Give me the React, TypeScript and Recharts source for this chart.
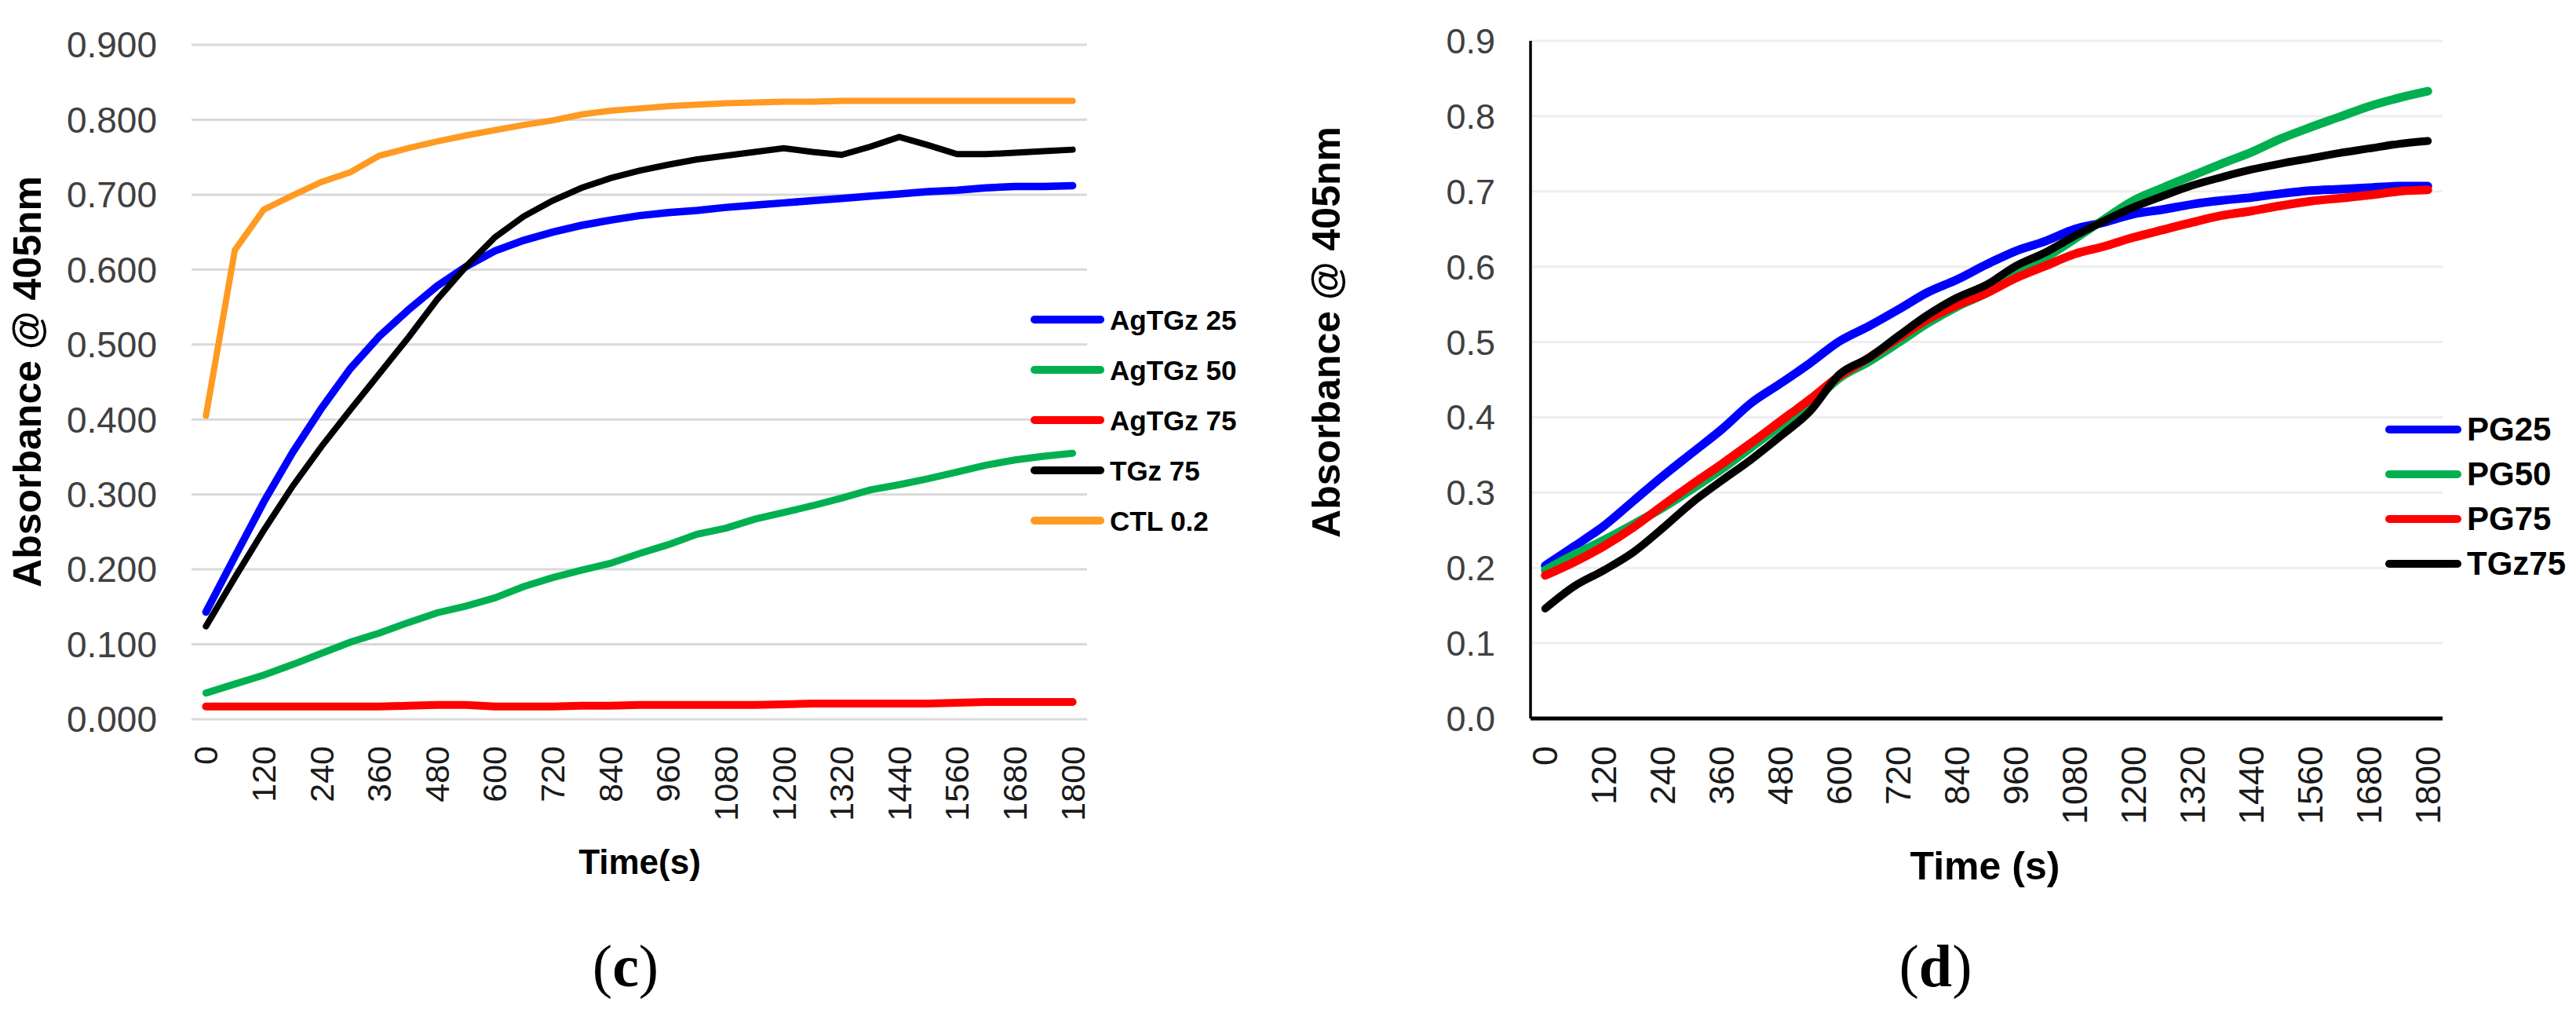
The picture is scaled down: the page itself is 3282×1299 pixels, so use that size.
import { LineChart, Line, XAxis, YAxis, CartesianGrid, Legend, Label } from "recharts";

const FONT = '"Liberation Sans", Arial, Helvetica, sans-serif';
const SERIF = '"Liberation Serif", "Times New Roman", serif';

// time points (s)
const times = [
  0, 60, 120, 180, 240, 300, 360, 420, 480, 540, 600, 660, 720, 780, 840, 900,
  960, 1020, 1080, 1140, 1200, 1260, 1320, 1380, 1440, 1500, 1560, 1620, 1680,
  1740, 1800,
];
const timeTicks = [0, 120, 240, 360, 480, 600, 720, 840, 960, 1080, 1200, 1320, 1440, 1560, 1680, 1800];
const absTicks = [0, 0.1, 0.2, 0.3, 0.4, 0.5, 0.6, 0.7, 0.8, 0.9];

// panel (c)
const seriesC = ["AgTGz 25", "AgTGz 50", "AgTGz 75", "TGz 75", "CTL 0.2"];
const agtgz25 = [0.143, 0.217, 0.29, 0.356, 0.415, 0.468, 0.511, 0.546, 0.578, 0.604, 0.625, 0.639, 0.65, 0.659, 0.666, 0.672, 0.676, 0.679, 0.683, 0.686, 0.689, 0.692, 0.695, 0.698, 0.701, 0.704, 0.706, 0.709, 0.711, 0.711, 0.712];
const agtgz50 = [0.035, 0.047, 0.059, 0.073, 0.088, 0.103, 0.115, 0.129, 0.142, 0.151, 0.162, 0.177, 0.189, 0.199, 0.208, 0.221, 0.233, 0.247, 0.255, 0.267, 0.276, 0.285, 0.295, 0.306, 0.313, 0.321, 0.33, 0.339, 0.346, 0.351, 0.355];
const agtgz75 = [0.017, 0.017, 0.017, 0.017, 0.017, 0.017, 0.017, 0.018, 0.019, 0.019, 0.017, 0.017, 0.017, 0.018, 0.018, 0.019, 0.019, 0.019, 0.019, 0.019, 0.02, 0.021, 0.021, 0.021, 0.021, 0.021, 0.022, 0.023, 0.023, 0.023, 0.023];
const tgz75c = [0.124, 0.189, 0.252, 0.311, 0.364, 0.413, 0.461, 0.509, 0.56, 0.604, 0.643, 0.671, 0.692, 0.709, 0.722, 0.732, 0.74, 0.747, 0.752, 0.757, 0.762, 0.757, 0.753, 0.764, 0.777, 0.766, 0.754, 0.754, 0.756, 0.758, 0.76];
const ctl02 = [0.405, 0.626, 0.68, 0.699, 0.717, 0.73, 0.752, 0.762, 0.771, 0.779, 0.786, 0.793, 0.799, 0.807, 0.812, 0.815, 0.818, 0.82, 0.822, 0.823, 0.824, 0.824, 0.825, 0.825, 0.825, 0.825, 0.825, 0.825, 0.825, 0.825, 0.825];

// panel (d)
const seriesD = ["PG25", "PG50", "PG75", "TGz75"];
const pg25 = [0.203, 0.229, 0.256, 0.289, 0.322, 0.353, 0.384, 0.419, 0.445, 0.472, 0.501, 0.521, 0.543, 0.566, 0.583, 0.603, 0.621, 0.634, 0.65, 0.659, 0.67, 0.676, 0.683, 0.688, 0.692, 0.697, 0.701, 0.703, 0.705, 0.707, 0.707];
const pg50 = [0.197, 0.218, 0.237, 0.258, 0.28, 0.305, 0.331, 0.36, 0.389, 0.417, 0.452, 0.474, 0.499, 0.525, 0.547, 0.565, 0.59, 0.612, 0.637, 0.663, 0.688, 0.705, 0.721, 0.737, 0.752, 0.77, 0.785, 0.799, 0.813, 0.824, 0.833];
const pg75 = [0.19, 0.208, 0.229, 0.254, 0.283, 0.311, 0.338, 0.366, 0.395, 0.424, 0.455, 0.479, 0.505, 0.53, 0.549, 0.565, 0.585, 0.601, 0.617, 0.627, 0.639, 0.649, 0.659, 0.668, 0.674, 0.681, 0.687, 0.691, 0.695, 0.7, 0.702];
const tgz75d = [0.146, 0.176, 0.197, 0.221, 0.253, 0.287, 0.316, 0.344, 0.375, 0.408, 0.457, 0.479, 0.508, 0.536, 0.559, 0.576, 0.601, 0.619, 0.641, 0.661, 0.679, 0.694, 0.708, 0.719, 0.729, 0.737, 0.744, 0.751, 0.757, 0.763, 0.767];

const dataC = times.map((t, i) => ({
  t,
  ag25: agtgz25[i],
  ag50: agtgz50[i],
  ag75: agtgz75[i],
  tgz: tgz75c[i],
  ctl: ctl02[i],
}));

const dataD = times.map((t, i) => ({
  t,
  pg25: pg25[i],
  pg50: pg50[i],
  pg75: pg75[i],
  tgz: tgz75d[i],
}));

function TimeTick(props: any) {
  const { x, y, payload, fontSize } = props;
  return (
    <text
      x={x}
      y={y}
      transform={`rotate(-90, ${x}, ${y})`}
      textAnchor="end"
      dominantBaseline="central"
      fontFamily={FONT}
      fontSize={fontSize}
      fill="#1a1a1a"
    >
      {payload.value}
    </text>
  );
}

// legend keeps the series order of the workbook, not alphabetical
function LegendList({ payload, order, rowHeight, swatchWidth, fontSize }: any) {
  const items = [...(payload || [])].sort(
    (a: any, b: any) => order.indexOf(a.value) - order.indexOf(b.value)
  );
  return (
    <div style={{ display: "flex", flexDirection: "column" }}>
      {items.map((e: any) => (
        <div key={e.value} style={{ display: "flex", alignItems: "center", height: rowHeight }}>
          <span
            style={{
              display: "inline-block",
              width: swatchWidth,
              height: 10,
              borderRadius: 5,
              background: e.color,
              marginRight: 7,
            }}
          />
          <span
            style={{
              fontFamily: FONT,
              fontWeight: "bold",
              fontSize,
              lineHeight: 1,
              color: "#000",
              whiteSpace: "nowrap",
            }}
          >
            {e.value}
          </span>
        </div>
      ))}
    </div>
  );
}

function yTitle(x: number, y: number) {
  return () => (
    <text
      x={x}
      y={y}
      transform={`rotate(-90, ${x}, ${y})`}
      textAnchor="middle"
      dominantBaseline="central"
      fontFamily={FONT}
      fontWeight="bold"
      fontSize={50}
      fill="#000"
    >
      Absorbance @ 405nm
    </text>
  );
}

function xTitle(text: string, x: number, y: number, size: number, caption: string, capX: number) {
  return () => (
    <g>
      <text x={x} y={y} textAnchor="middle" fontFamily={FONT} fontWeight="bold" fontSize={size} fill="#000">
        {text}
      </text>
      <text x={capX} y={1256} textAnchor="middle" fontFamily={SERIF} fontSize={76} fill="#000">
        (<tspan fontWeight="bold">{caption}</tspan>)
      </text>
    </g>
  );
}

export default function App() {
  return (
    <div
      style={{
        position: "relative",
        width: 3282,
        height: 1299,
        margin: -8,
        background: "#fff",
        overflow: "hidden",
      }}
    >
      {/* (c) */}
      <div style={{ position: "absolute", left: 0, top: 0 }}>
        <LineChart width={1650} height={1299} data={dataC} margin={{ top: 57, right: 265, bottom: 183, left: 124 }}>
          <CartesianGrid vertical={false} stroke="#d9d9d9" strokeWidth={3} />
          <XAxis
            dataKey="t"
            type="number"
            domain={[-30, 1830]}
            ticks={timeTicks}
            interval={0}
            allowDataOverflow
            axisLine={false}
            tickLine={false}
            tickSize={0}
            tickMargin={34}
            height={200}
            tick={(p: any) => <TimeTick {...p} fontSize={43} />}
          >
            <Label content={xTitle("Time(s)", 815, 1113, 44, "c", 797)} />
          </XAxis>
          <YAxis
            type="number"
            domain={[0, 0.9]}
            ticks={absTicks}
            interval={0}
            width={120}
            axisLine={false}
            tickLine={false}
            tickSize={0}
            tickMargin={44}
            tickFormatter={(v: number) => v.toFixed(3)}
            tick={{ fontFamily: FONT, fontSize: 46, fill: "#404040" }}
          >
            <Label content={yTitle(35, 486)} />
          </YAxis>
          <Legend
            layout="vertical"
            align="center"
            verticalAlign="middle"
            wrapperStyle={{ left: 1313, top: 375, width: 330 }}
            content={(p: any) => (
              <LegendList payload={p.payload} order={seriesC} rowHeight={64} swatchWidth={94} fontSize={35} />
            )}
          />
          <Line dataKey="ag25" name={seriesC[0]} stroke="#0000ff" strokeWidth={9.5} strokeLinecap="round" dot={false} activeDot={false} isAnimationActive={false} />
          <Line dataKey="ag50" name={seriesC[1]} stroke="#00b050" strokeWidth={9} strokeLinecap="round" dot={false} activeDot={false} isAnimationActive={false} />
          <Line dataKey="ag75" name={seriesC[2]} stroke="#ff0000" strokeWidth={10} strokeLinecap="round" dot={false} activeDot={false} isAnimationActive={false} />
          <Line dataKey="tgz" name={seriesC[3]} stroke="#000000" strokeWidth={8} strokeLinecap="round" dot={false} activeDot={false} isAnimationActive={false} />
          <Line dataKey="ctl" name={seriesC[4]} stroke="#ff9a22" strokeWidth={8} strokeLinecap="round" dot={false} activeDot={false} isAnimationActive={false} />
        </LineChart>
      </div>

      {/* (d) */}
      <div style={{ position: "absolute", left: 1650, top: 0 }}>
        <LineChart width={1632} height={1299} data={dataD} margin={{ top: 52, right: 170, bottom: 184, left: 180 }}>
          <CartesianGrid vertical={false} stroke="#eeeeee" strokeWidth={3} />
          <XAxis
            dataKey="t"
            type="number"
            domain={[-30, 1830]}
            ticks={timeTicks}
            interval={0}
            allowDataOverflow
            axisLine={{ stroke: "#000", strokeWidth: 5 }}
            tickLine={false}
            tickSize={0}
            tickMargin={35}
            height={200}
            tick={(p: any) => <TimeTick {...p} fontSize={45} />}
          >
            <Label content={xTitle("Time (s)", 879, 1120, 50, "d", 816)} />
          </XAxis>
          <YAxis
            type="number"
            domain={[0, 0.9]}
            ticks={absTicks}
            interval={0}
            width={120}
            axisLine={{ stroke: "#000", strokeWidth: 3.5 }}
            tickLine={false}
            tickSize={0}
            tickMargin={45}
            tickFormatter={(v: number) => v.toFixed(1)}
            tick={{ fontFamily: FONT, fontSize: 45, fill: "#404040" }}
          >
            <Label content={yTitle(40, 423)} />
          </YAxis>
          <Legend
            layout="vertical"
            align="center"
            verticalAlign="middle"
            wrapperStyle={{ left: 1389, top: 518, width: 240 }}
            content={(p: any) => (
              <LegendList payload={p.payload} order={seriesD} rowHeight={57} swatchWidth={97} fontSize={42} />
            )}
          />
          <Line type="monotone" dataKey="pg25" name={seriesD[0]} stroke="#0000ff" strokeWidth={11} strokeLinecap="round" dot={false} activeDot={false} isAnimationActive={false} />
          <Line type="monotone" dataKey="pg50" name={seriesD[1]} stroke="#00b050" strokeWidth={11} strokeLinecap="round" dot={false} activeDot={false} isAnimationActive={false} />
          <Line type="monotone" dataKey="pg75" name={seriesD[2]} stroke="#ff0000" strokeWidth={11} strokeLinecap="round" dot={false} activeDot={false} isAnimationActive={false} />
          <Line type="monotone" dataKey="tgz" name={seriesD[3]} stroke="#000000" strokeWidth={10} strokeLinecap="round" dot={false} activeDot={false} isAnimationActive={false} />
        </LineChart>
      </div>
    </div>
  );
}
